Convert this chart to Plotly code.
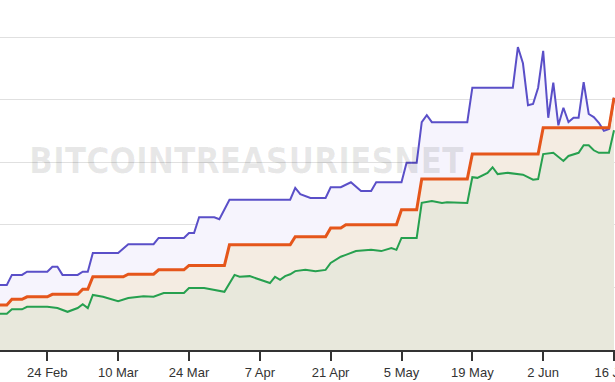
import plotly.graph_objects as go

# ---- data (values in chart units; gridlines every 100) ----
blue_dates = ["2025-02-14","2025-02-16","2025-02-17","2025-02-19","2025-02-20","2025-02-24","2025-02-25","2025-02-26",
              "2025-02-27","2025-03-02","2025-03-03","2025-03-04","2025-03-05","2025-03-10","2025-03-12","2025-03-17",
              "2025-03-18","2025-03-23","2025-03-24","2025-03-25","2025-03-26","2025-03-29","2025-03-30","2025-04-01",
              "2025-04-13","2025-04-14","2025-04-15","2025-04-17","2025-04-20","2025-04-21","2025-04-23","2025-04-25",
              "2025-04-27","2025-04-29","2025-04-30","2025-05-05","2025-05-06","2025-05-08","2025-05-09","2025-05-10",
              "2025-05-11","2025-05-18","2025-05-19","2025-05-27","2025-05-28","2025-05-29","2025-05-30","2025-05-31",
              "2025-06-01","2025-06-02","2025-06-03","2025-06-04","2025-06-05","2025-06-06","2025-06-07","2025-06-08",
              "2025-06-09","2025-06-10","2025-06-11","2025-06-12","2025-06-13","2025-06-14","2025-06-15","2025-06-16"]
blue_values = [104,104,120,120,125,125,133,133,
               120,120,125,125,155,155,169,169,
               179,179,187,187,212,212,209,240,
               240,259,249,243,243,260,260,268,
               254,254,268,268,299,299,364,375,
               364,364,419,419,484,458,391,393,
               419,478,371,427,359,387,364,371,
               371,428,377,372,363,350,353,403]

orange_dates = ["2025-02-14","2025-02-16","2025-02-17","2025-02-19","2025-02-20","2025-02-24","2025-02-25","2025-03-02",
                "2025-03-03","2025-03-04","2025-03-05","2025-03-11","2025-03-12","2025-03-17","2025-03-18","2025-03-23",
                "2025-03-24","2025-03-31","2025-04-01","2025-04-13","2025-04-14","2025-04-20","2025-04-21","2025-04-23",
                "2025-04-24","2025-05-04","2025-05-05","2025-05-08","2025-05-09","2025-05-18","2025-05-19","2025-06-01",
                "2025-06-02","2025-06-15","2025-06-16"]
orange_values = [72,72,81,81,85,85,89,89,
                 97,97,117,117,121,121,128,128,
                 135,135,168,168,181,181,195,195,
                 200,200,224,224,273,273,313,313,
                 355,355,403]

green_dates = ["2025-02-14","2025-02-16","2025-02-17","2025-02-19","2025-02-20","2025-02-24","2025-02-26","2025-02-28",
               "2025-03-02","2025-03-03","2025-03-04","2025-03-05","2025-03-07","2025-03-10","2025-03-12","2025-03-15",
               "2025-03-17","2025-03-19","2025-03-23","2025-03-24","2025-03-27","2025-03-31","2025-04-02","2025-04-03",
               "2025-04-05","2025-04-07","2025-04-08","2025-04-09","2025-04-10","2025-04-11","2025-04-12","2025-04-13",
               "2025-04-14","2025-04-16","2025-04-18","2025-04-20","2025-04-21","2025-04-22","2025-04-23","2025-04-24",
               "2025-04-26","2025-04-29","2025-05-01","2025-05-03","2025-05-04","2025-05-05","2025-05-08","2025-05-09",
               "2025-05-11","2025-05-13","2025-05-14","2025-05-18","2025-05-19","2025-05-20","2025-05-22","2025-05-23",
               "2025-05-24","2025-05-26","2025-05-29","2025-05-31","2025-06-01","2025-06-02","2025-06-04","2025-06-06",
               "2025-06-07","2025-06-09","2025-06-10","2025-06-11","2025-06-12","2025-06-13","2025-06-15","2025-06-16"]
green_values = [58,58,65,65,69,69,67,61,
                67,73,67,88,85,78,83,86,
                85,91,91,99,99,93,120,117,
                118,112,110,107,117,112,118,121,
                126,128,126,128,139,144,149,152,
                158,160,158,163,160,179,179,235,
                238,235,236,235,276,275,283,292,
                281,283,280,272,273,313,315,302,
                310,315,327,327,319,315,315,351]

tick_start = "2025-02-24"
watermark = "BITCOINTREASURIESNET"

BLUE = "#5a4fc8"
ORANGE = "#e5561b"
GREEN = "#26a04f"

fig = go.Figure()

# fills (back to front)
for d, v, fc in [(blue_dates, blue_values, "#f6f4fd"),
                 (orange_dates, orange_values, "#f4ece2"),
                 (green_dates, green_values, "#e8e8dc")]:
    fig.add_trace(go.Scatter(x=d, y=v, mode="none", fill="tozeroy", fillcolor=fc,
                             hoverinfo="skip", showlegend=False))

# lines on top
for d, v, c, w in [(blue_dates, blue_values, BLUE, 2),
                   (orange_dates, orange_values, ORANGE, 3),
                   (green_dates, green_values, GREEN, 2)]:
    fig.add_trace(go.Scatter(x=d, y=v, mode="lines", line=dict(color=c, width=w),
                             showlegend=False))

fig.add_annotation(text=watermark, xref="paper", yref="paper", x=0.40, y=0.54,
                   xanchor="center", yanchor="middle", showarrow=False,
                   font=dict(family="DejaVu Sans Condensed, sans-serif",
                             size=35, color="rgba(0,0,0,0.09)", weight="bold"))

fig.update_layout(
    width=615, height=382,
    margin=dict(l=0, r=0, t=0, b=32),
    paper_bgcolor="white", plot_bgcolor="white",
    showlegend=False,
    font=dict(family="Liberation Sans, Arial, sans-serif", size=13, color="#333333"),
)
fig.update_xaxes(
    range=["2025-02-14 15:36", "2025-06-16 04:40"],
    tick0=tick_start, dtick=14 * 86400000, tickformat="%-d %b",
    ticks="outside", ticklen=9, tickwidth=1.5, tickcolor="#333333",
    showline=True, linecolor="#333333", linewidth=2,
    showgrid=False, zeroline=False, automargin=False,
    ticklabeloverflow="allow",
    tickfont=dict(size=13, color="#333333"),
)
fig.update_yaxes(
    range=[0, 559.1], dtick=100, showticklabels=False,
    showgrid=True, gridcolor="#e0e0e0", gridwidth=1, zeroline=False,
)

fig.write_html("out.html", config={"displayModeBar": False},
               post_script="document.body.style.margin='0';")
